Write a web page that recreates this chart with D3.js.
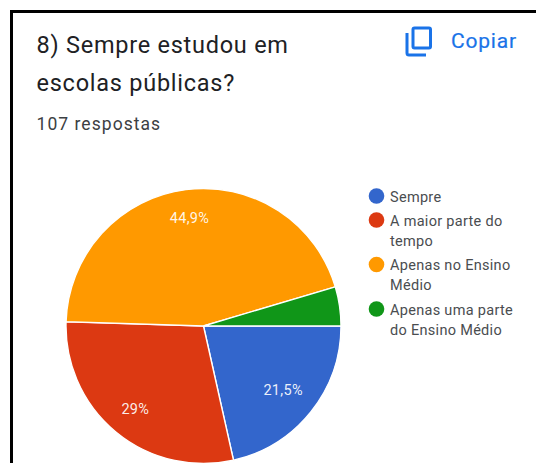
<!DOCTYPE html>
<html>
<head>
<meta charset="utf-8">
<script src="https://cdn.jsdelivr.net/npm/d3@7"></script>
<style>
html,body{margin:0;padding:0;background:#fff;overflow:hidden}
svg{display:block;font-family:Roboto,sans-serif}
</style>
</head>
<body>
<svg id="chart" width="536" height="463"></svg>
<script>
// Survey question and its answers
const titleLines = ["8) Sempre estudou em", "escolas públicas?"];
const responseCount = "107 respostas";
const copyLabel = "Copiar";
const categories = ["Sempre", "A maior parte do tempo", "Apenas no Ensino Médio", "Apenas uma parte do Ensino Médio"];
const legendLines = [["Sempre"], ["A maior parte do", "tempo"], ["Apenas no Ensino", "Médio"], ["Apenas uma parte", "do Ensino Médio"]];
const shares = [21.5, 29, 44.9, 4.6];
const sliceLabels = ["21,5%", "29%", "44,9%", ""];
const colors = ["#3366cc", "#dc3912", "#ff9900", "#109618"];

const svg = d3.select("#chart");

// Card outline: only the top and left edges fall inside the frame
svg.append("path")
  .attr("d", "M11.5,463V11.5H536")
  .attr("fill", "none")
  .attr("stroke", "#000")
  .attr("stroke-width", 3);

// Heading
svg.selectAll("text.title").data(titleLines).join("text")
  .attr("class", "title")
  .attr("x", 36.5)
  .attr("y", (d, i) => 53 + i * 37.5)
  .attr("font-size", 23.5)
  .attr("letter-spacing", 0.75)
  .attr("fill", "#202124")
  .text(d => d);

svg.append("text")
  .attr("x", 36.5).attr("y", 130)
  .attr("font-size", 17.5)
  .attr("letter-spacing", 1.05)
  .attr("fill", "#3c4043")
  .text(responseCount);

// Copy button: two overlapping sheets and its label
const copyIcon = svg.append("g")
  .attr("fill", "none").attr("stroke", "#1a73e8").attr("stroke-width", 3);
copyIcon.append("rect")
  .attr("x", 413).attr("y", 28).attr("width", 17.5).attr("height", 20).attr("rx", 1.5);
copyIcon.append("path")
  .attr("d", "M407,33V53Q407,55 409,55H426");

svg.append("text")
  .attr("x", 451).attr("y", 47.5)
  .attr("font-size", 21)
  .attr("letter-spacing", 0.8)
  .attr("fill", "#1a73e8")
  .attr("stroke", "#1a73e8")
  .attr("stroke-width", 0.2)
  .text(copyLabel);

// Pie: first slice starts at three o'clock and runs clockwise
const cx = 203.5, cy = 326, radius = 137.5;
const pie = d3.pie().sort(null).value(d => d)
  .startAngle(Math.PI / 2).endAngle(Math.PI / 2 + 2 * Math.PI);
const arc = d3.arc().innerRadius(0).outerRadius(radius);
const slices = pie(shares);
const labelRadius = [102, 107, 109, 109];

const pieGroup = svg.append("g").attr("transform", `translate(${cx},${cy})`);
pieGroup.selectAll("path").data(slices).join("path")
  .attr("d", arc)
  .attr("fill", (d, i) => colors[i])
  .attr("stroke", "#fff")
  .attr("stroke-width", 1.4);

pieGroup.selectAll("text").data(slices).join("text")
  .attr("transform", (d, i) => {
    const r = labelRadius[i];
    return `translate(${d3.arc().innerRadius(r).outerRadius(r).centroid(d)})`;
  })
  .attr("text-anchor", "middle")
  .attr("dy", "0.35em")
  .attr("font-size", 14.5)
  .attr("letter-spacing", 0.3)
  .attr("fill", "#fff")
  .attr("fill-opacity", 0.92)
  .text((d, i) => sliceLabels[i]);

// Legend, with wrapped entries
const lineHeight = 20;
const legendY = d3.scaleOrdinal().domain(categories).range([196, 220, 264.5, 309]);
const legend = svg.append("g");
const entries = legend.selectAll("g").data(categories).join("g")
  .attr("transform", d => `translate(0,${legendY(d)})`);
entries.append("circle")
  .attr("cx", 376.5).attr("cy", 0).attr("r", 7.8)
  .attr("fill", (d, i) => colors[i]);
entries.each(function(d, i) {
  d3.select(this).selectAll("text").data(legendLines[i]).join("text")
    .attr("x", 390)
    .attr("y", (l, j) => 5.5 + j * lineHeight)
    .attr("font-size", 14.5)
    .attr("letter-spacing", 0.3)
    .attr("fill", "#4a4d50")
    .text(l => l);
});
</script>
</body>
</html>
